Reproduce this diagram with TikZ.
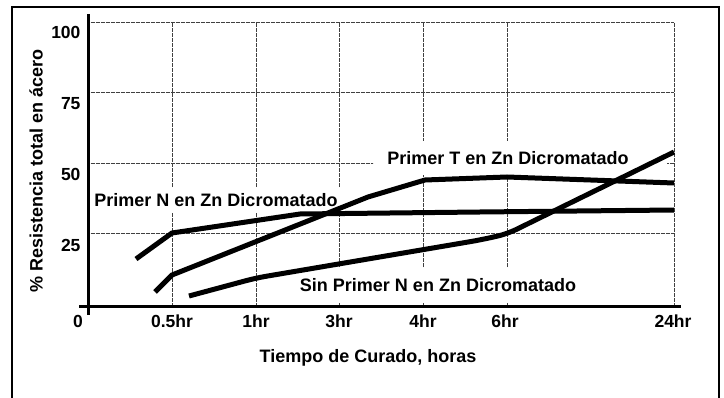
\documentclass[tikz,border=0pt]{standalone}
\usepackage{fontspec}
\setmainfont{Liberation Sans}
\begin{document}
\begin{tikzpicture} [x = 1pt, y = -1pt,
    gridln/.style = {line width = 1pt, black!75, dash pattern = on 2pt off 0.5pt},
    curve/.style = {line width = 5pt},
    axis/.style = {line width = 3pt},
    tick/.style = {font = \fontsize{17.5}{20}\selectfont\bfseries},
    lbl/.style = {font = \fontsize{18}{20}\selectfont\bfseries, fill = white, inner xsep = 3pt}]
    \useasboundingbox (0,0) rectangle (724,398);
    \draw [line width = 2pt] (12,404)--(12,7)--(719,7)--(719,404);
    % grid
    \draw [gridln] (88,23)--(674,23);
    \draw [gridln] (88,93)--(674,93);
    \draw [gridln] (88,164)--(373,164);
    \draw [gridln] (667,164)--(674,164);
    \draw [gridln] (88,234)--(674,234);
    \draw [gridln] (172,23)--(172,307);
    \draw [gridln] (256,23)--(256,307);
    \draw [gridln] (339,23)--(339,307);
    \draw [gridln] (423,23)--(423,307);
    \draw [gridln] (507,23)--(507,307);
    \draw [gridln] (674,23)--(674,307);
    % axes
    \draw [axis] (88,14)--(88,315);
    \draw [axis] (79,307)--(681,307);
    \node [tick, anchor = east] (y100) at (84,32) {100};
    \node [tick, anchor = east] (y75) at (84,104) {75};
    \node [tick, anchor = east] (y50) at (84,174) {50};
    \node [tick, anchor = east] (y25) at (84,245) {25};
    \node [tick] (x0) at (78,321) {0};
    \node [tick] (x05) at (172,321) {0.5hr};
    \node [tick] (x1) at (256,321) {1hr};
    \node [tick] (x3) at (339,321) {3hr};
    \node [tick] (x4) at (423,321) {4hr};
    \node [tick] (x6) at (505,321) {6hr};
    \node [tick] (x24) at (673,321) {24hr};
    \node [tick, font = \fontsize{18}{20}\selectfont\bfseries, rotate = 90] (ytitle) at (36,171) {\% Resistencia total en ácero};
    \node [tick, font = \fontsize{18}{20}\selectfont\bfseries] (xtitle) at (368,358) {Tiempo de Curado, horas};
    % curve labels
    \node [lbl, inner ysep = 6pt] (lblPrimerN) at (216,200) {Primer N en Zn Dicromatado};
    \node [lbl, inner ysep = 10pt] (lblPrimerT) at (508,158) {Primer T en Zn Dicromatado};
    \node [lbl, inner ysep = 10pt] (lblSinPrimer) at (438,285) {Sin Primer N en Zn Dicromatado};
    % curves
    \draw [curve] (136,259)--(172,233)--(300,214)--(480,212)--(674,210);
    \draw [curve] (155,292)--(172,275)--(343,207)--(368,197)--(425,180)--(507,177)--(674,183);
    \draw [curve, rounded corners = 10pt] (189,296)--(256,278)--(480,240)--(507,234)--(674,152);
  \end{tikzpicture}
\end{document}
